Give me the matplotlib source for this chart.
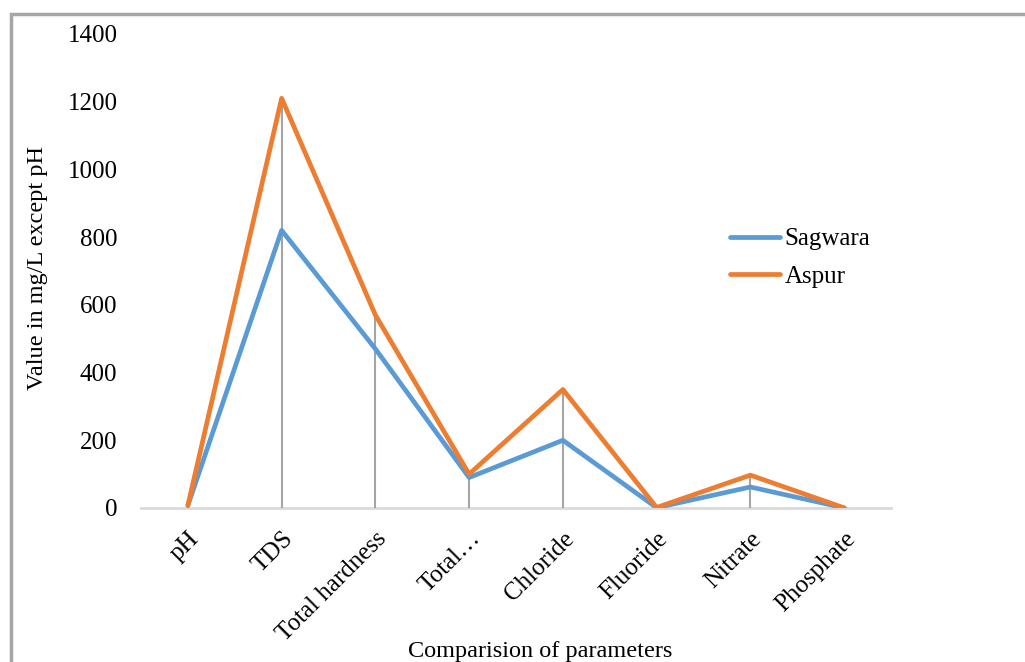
import matplotlib
matplotlib.use("Agg")
import matplotlib.pyplot as plt
from matplotlib.patches import Rectangle

plt.rcParams['font.family'] = ['Liberation Serif', 'DejaVu Serif']

categories = ["pH", "TDS", "Total hardness", "Total\u2026", "Chloride", "Fluoride", "Nitrate", "Phosphate"]
sagwara = [7.5, 820, 470, 90, 200, 1.0, 62, 0.5]
aspur = [7.8, 1210, 570, 100, 350, 1.5, 97, 0.5]
yticks = [0, 200, 400, 600, 800, 1000, 1200, 1400]

W, H = 1025, 662
fig = plt.figure(figsize=(W / 100, H / 100), dpi=100)
ax = fig.add_axes([141 / W, 1 - 508 / H, (891 - 141) / W, (508 - 34) / H])

x = list(range(len(categories)))
tops = [max(s, a) for s, a in zip(sagwara, aspur)]
ax.vlines(x, 0, tops, colors="#a5a5a5", linewidth=1.5, zorder=1)

ax.plot(x, sagwara, color="#5b9bd5", linewidth=3.4, solid_capstyle="round",
        solid_joinstyle="round", label="Sagwara", zorder=3)
ax.plot(x, aspur, color="#ed7d31", linewidth=3.4, solid_capstyle="round",
        solid_joinstyle="round", label="Aspur", zorder=4)

ax.set_xlim(-0.5, len(categories) - 0.5)
ax.set_ylim(0, 1400)
ax.set_yticks(yticks)
ax.set_yticklabels([str(v) for v in yticks], fontsize=18)
ax.set_xticks(x)
ax.set_xticklabels(categories, fontsize=18, rotation=45, ha="right", va="top",
                   rotation_mode="anchor")
ax.tick_params(axis="y", length=0, pad=17)
ax.tick_params(axis="x", length=0, pad=14)

for side in ["left", "right", "top"]:
    ax.spines[side].set_visible(False)
ax.spines["bottom"].set_color("#d9d9d9")
ax.spines["bottom"].set_linewidth(2)
ax.spines["bottom"].set_zorder(0.5)

fig.text(540 / W, 1 - 651 / H, "Comparision of parameters", fontsize=17.5,
         ha="center", va="center")
fig.text(38 / W, 1 - 268 / H, "Value in mg/L except pH", fontsize=17.5,
         ha="center", va="center", rotation=90)

leg = ax.legend(loc="center left", bbox_to_anchor=(707 / W, 1 - 258 / H),
                bbox_transform=fig.transFigure, frameon=False, fontsize=18,
                handlelength=2.0, handletextpad=0.2, labelspacing=0.6)

fig.patches.append(Rectangle((11 / W, -0.1), 1.2, 1 - 14 / H + 0.1,
                             transform=fig.transFigure, fill=False,
                             edgecolor="#a6a6a6", linewidth=2.5))

fig.savefig("out.png", dpi=100)
